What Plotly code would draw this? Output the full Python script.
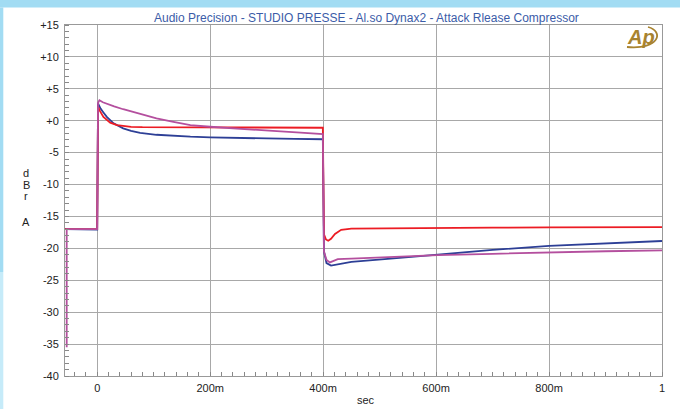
import plotly.graph_objects as go

# Attack / release response of the compressor, three settings (level in dBr A vs time in seconds)
t_red = [-0.057, -0.03, 0.0, 0.0015, 0.005, 0.011, 0.017, 0.023, 0.035, 0.046, 0.06, 0.08, 0.12,
         0.2, 0.3, 0.3995, 0.4015, 0.405, 0.409, 0.414, 0.421, 0.432, 0.45, 0.5, 0.6, 0.7, 0.8, 0.9, 1.0]
v_red = [-17.0, -17.0, -17.0, 2.2, 1.5, 0.6, 0.1, -0.3, -0.7, -0.85, -0.95, -1.0, -1.02,
         -1.05, -1.08, -1.1, -17.8, -18.6, -18.8, -18.5, -17.75, -17.1, -16.9, -16.85, -16.8, -16.75, -16.72, -16.7, -16.68]

t_blue = [-0.057, -0.03, 0.0, 0.0015, 0.006, 0.011, 0.017, 0.029, 0.046, 0.06, 0.076, 0.105, 0.135,
          0.165, 0.2, 0.226, 0.3, 0.35, 0.3995, 0.4015, 0.406, 0.414, 0.426, 0.45, 0.509, 0.568, 0.603,
          0.7, 0.8, 0.9, 1.0]
v_blue = [-17.0, -17.05, -17.05, 2.7, 1.9, 1.3, 0.6, -0.4, -1.2, -1.6, -1.9, -2.2, -2.38,
          -2.5, -2.6, -2.67, -2.78, -2.85, -2.9, -20.5, -22.3, -22.7, -22.5, -22.1, -21.7, -21.25, -20.9,
          -20.25, -19.6, -19.2, -18.85]

t_purple = [-0.054, -0.054, -0.03, 0.0, 0.0015, 0.004, 0.01, 0.02, 0.03, 0.046, 0.07, 0.105, 0.135,
            0.165, 0.2, 0.253, 0.311, 0.36, 0.3995, 0.4015, 0.406, 0.412, 0.426, 0.45, 0.509, 0.568,
            0.603, 0.7, 0.8, 0.9, 1.0]
v_purple = [-35.5, -17.0, -17.0, -17.0, 2.8, 3.2, 2.9, 2.55, 2.25, 1.8, 1.2, 0.37, -0.18,
            -0.68, -0.94, -1.3, -1.6, -1.85, -2.1, -20.5, -21.8, -22.2, -21.7, -21.6, -21.4, -21.2,
            -21.05, -20.85, -20.6, -20.45, -20.3]

y_ticks = [15, 10, 5, 0, -5, -10, -15, -20, -25, -30, -35, -40]
y_tick_text = ["+15", "+10", "+5", "+0", "-5", "-10", "-15", "-20", "-25", "-30", "-35", "-40"]
x_ticks = [0, 0.2, 0.4, 0.6, 0.8, 1.0]
x_tick_text = ["0", "200m", "400m", "600m", "800m", "1"]

TITLE = "Audio Precision - STUDIO PRESSE - Al.so Dynax2 - Attack Rlease Compressor"

W, H = 680, 409
ML, MR, MT, MB = 65, 18, 25, 33
PW, PH = W - ML - MR, H - MT - MB


def px(x):
    return (x - ML) / PW


def py(y):
    return (H - MB - y) / PH


fig = go.Figure()
for t, v, c in [(t_blue, v_blue, "#2d3f96"), (t_red, v_red, "#ec1c24"), (t_purple, v_purple, "#b44f9e")]:
    fig.add_trace(go.Scatter(x=t, y=v, mode="lines", line=dict(color=c, width=1.8),
                             showlegend=False, hoverinfo="skip"))

axis_font = dict(family="Liberation Sans, Arial, sans-serif", size=11, color="#222222")

fig.update_layout(
    width=W, height=H,
    margin=dict(l=ML, r=MR, t=MT, b=MB),
    paper_bgcolor="white", plot_bgcolor="white",
    font=axis_font,
    xaxis=dict(range=[-0.057, 1.0], tickvals=x_ticks, ticktext=x_tick_text, ticks="",
               showgrid=True, gridcolor="#a8a8a8", gridwidth=1, zeroline=False,
               showline=True, linecolor="#999999", linewidth=1, mirror=True,
               tickfont=axis_font, ticklabelstandoff=2,
               minor=dict(dtick=0.02, tick0=0, ticks="inside", ticklen=4, tickcolor="#888888",
                          showgrid=False)),
    yaxis=dict(range=[-40, 15], tickvals=y_ticks, ticktext=y_tick_text, ticks="",
               showgrid=True, gridcolor="#a8a8a8", gridwidth=1, zeroline=False,
               showline=True, linecolor="#999999", linewidth=1, mirror=True,
               tickfont=axis_font, ticklabelstandoff=3,
               minor=dict(dtick=1, tick0=0, ticks="inside", ticklen=4, tickcolor="#888888",
                          showgrid=False)),
)

# Light blue frame around the sheet
shapes = [
    dict(type="rect", xref="paper", yref="paper", x0=px(0), x1=px(W), y0=py(7.5), y1=py(0),
         fillcolor="#a2dcf3", line=dict(width=0), layer="above"),
    dict(type="rect", xref="paper", yref="paper", x0=px(0), x1=px(3.3), y0=py(272), y1=py(7.5),
         fillcolor="#a2dcf3", line=dict(width=0), layer="above"),
    dict(type="rect", xref="paper", yref="paper", x0=px(0), x1=px(3.3), y0=py(H), y1=py(272),
         fillcolor="#c6ebf9", line=dict(width=0), layer="above"),
    # swoosh of the Ap mark
    dict(type="path", xref="paper", yref="paper",
         path=(f"M {px(627)},{py(47)} C {px(660)},{py(50)} {px(664)},{py(31)} {px(648)},{py(27)}"),
         line=dict(color="#a8832f", width=1.8), layer="above"),
]
fig.update_layout(shapes=shapes)

annotations = [
    dict(text=TITLE, xref="paper", yref="paper", x=px(366), y=py(18), showarrow=False,
         font=dict(family="Liberation Sans, Arial, sans-serif", size=12, color="#3b5ca8"),
         xanchor="center", yanchor="middle"),
    dict(text="sec", xref="paper", yref="paper", x=px(366), y=py(400), showarrow=False,
         font=axis_font, xanchor="center", yanchor="middle"),
    dict(text="<i><b>Ap</b></i>", xref="paper", yref="paper", x=px(641), y=py(37), showarrow=False,
         font=dict(family="Liberation Sans, Arial, sans-serif", size=20, color="#a8832f"),
         xanchor="center", yanchor="middle"),
]
for ch, yy in [("d", 173), ("B", 185), ("r", 196), ("A", 222)]:
    annotations.append(dict(text=ch, xref="paper", yref="paper", x=px(26), y=py(yy), showarrow=False,
                            font=axis_font, xanchor="center", yanchor="middle"))
fig.update_layout(annotations=annotations)

fig.write_html("out.html")
